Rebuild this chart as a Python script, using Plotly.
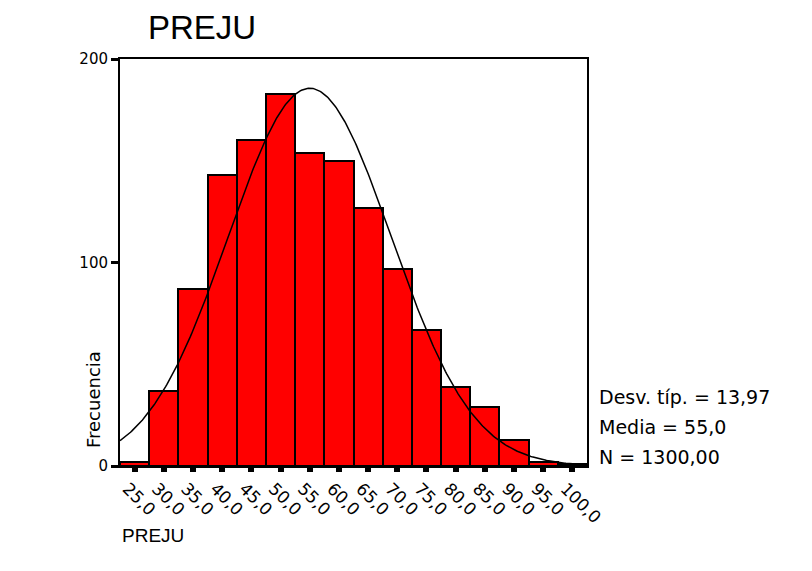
import numpy as np
import plotly.graph_objects as go

# ---- data ----
bin_centers = [25, 30, 35, 40, 45, 50, 55, 60, 65, 70, 75, 80, 85, 90, 95, 100]
frequencies = [2, 37, 87, 143, 160, 183, 154, 150, 127, 97, 67, 39, 29, 13, 2, 1]
tick_labels = ["25,0", "30,0", "35,0", "40,0", "45,0", "50,0", "55,0", "60,0",
               "65,0", "70,0", "75,0", "80,0", "85,0", "90,0", "95,0", "100,0"]
stat_mean = 55.0
stat_sd = 13.97
stat_n = 1300
bin_width = 5
stats_text = ["Desv. típ. = 13,97", "Media = 55,0", "N = 1300,00"]

FONT = "Liberation Sans, Arial, sans-serif"
WIDE = "DejaVu Sans, Verdana, sans-serif"

# plot area in page pixels (page body has an 8px margin)
PL, PR, PT, PB = 120, 587, 59, 466
PW, PH = PR - PL, PB - PT


def px(x):
    return (x - PL) / PW


def py(y):
    return (PB - y) / PH


# Normal curve fitted from the displayed statistics
xs = np.linspace(bin_centers[0] - bin_width / 2, bin_centers[-1] + bin_width / 2, 400)
ys = stat_n * bin_width / (stat_sd * np.sqrt(2 * np.pi)) * np.exp(-0.5 * ((xs - stat_mean) / stat_sd) ** 2)

fig = go.Figure()
fig.add_trace(go.Bar(
    x=bin_centers, y=frequencies, width=bin_width,
    marker=dict(color="#FF0000", line=dict(color="black", width=2)),
    showlegend=False, hoverinfo="x+y",
))
fig.add_trace(go.Scatter(
    x=xs, y=ys, mode="lines", line=dict(color="black", width=1.5),
    showlegend=False, hoverinfo="skip",
))

fig.update_layout(
    width=804, height=563,
    margin=dict(l=PL - 8, r=804 - (PR - 8), t=PT - 8, b=563 - (PB - 8)),
    paper_bgcolor="white", plot_bgcolor="white",
    font=dict(family=FONT, color="black"),
    bargap=0,
    xaxis=dict(
        range=[bin_centers[0] - bin_width / 2, bin_centers[-1] + bin_width / 2],
        tickmode="array", tickvals=bin_centers, ticktext=tick_labels,
        tickangle=45, tickfont=dict(size=17, family=WIDE), ticklabelshift=-7,
        ticks="outside", ticklen=4, tickwidth=6, tickcolor="black",
        showline=True, linecolor="black", linewidth=2, mirror=True,
        showgrid=False, zeroline=False, fixedrange=True,
    ),
    yaxis=dict(
        range=[0, 200], tickmode="array", tickvals=[0, 100, 200],
        ticktext=["0", "100", "200"], tickfont=dict(size=15, family=WIDE),
        ticks="outside", ticklen=7, tickwidth=3, tickcolor="black",
        showline=True, linecolor="black", linewidth=2, mirror=True,
        showgrid=False, zeroline=False, fixedrange=True,
    ),
    annotations=[
        dict(text="PREJU", xref="paper", yref="paper", x=px(146), y=py(27),
             xanchor="left", yanchor="middle", showarrow=False, font=dict(size=33, family=FONT)),
        dict(text="Frecuencia", xref="paper", yref="paper", x=px(93), y=py(400),
             xanchor="center", yanchor="middle", textangle=-90, showarrow=False,
             font=dict(size=18, family=WIDE)),
        dict(text="PREJU", xref="paper", yref="paper", x=0, y=py(535),
             xanchor="left", yanchor="middle", showarrow=False, font=dict(size=19, family=FONT)),
    ] + [
        dict(text=t, xref="paper", yref="paper", x=px(597), y=py(yy),
             xanchor="left", yanchor="middle", showarrow=False, font=dict(size=19, family=WIDE))
        for t, yy in zip(stats_text, [397, 427, 457])
    ],
)

fig.write_html("out.html")
